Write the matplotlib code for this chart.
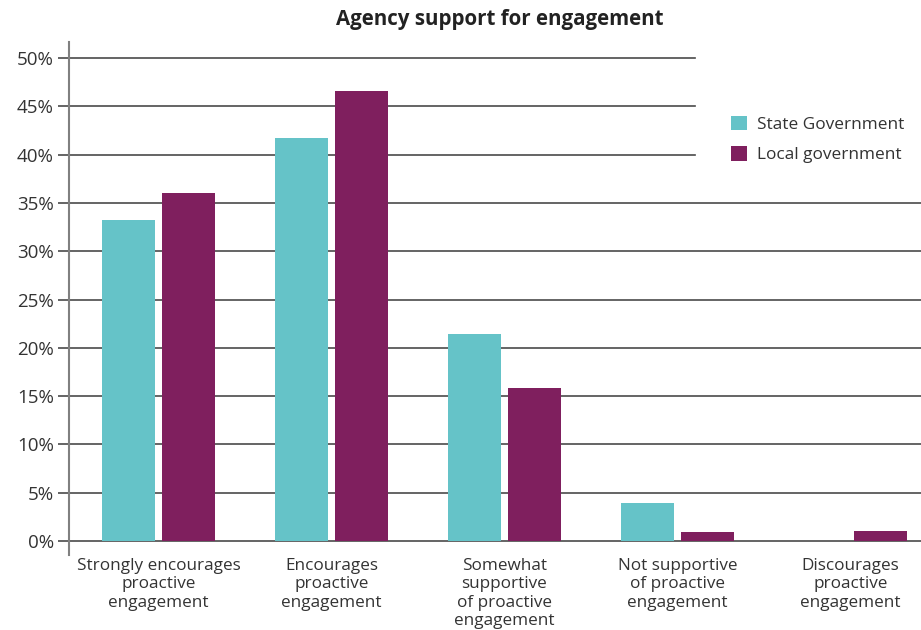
import matplotlib.pyplot as plt
import numpy as np

plt.rcParams['font.family'] = ['Open Sans', 'DejaVu Sans']

categories = ['Strongly encourages\nproactive\nengagement',
              'Encourages\nproactive\nengagement',
              'Somewhat\nsupportive\nof proactive\nengagement',
              'Not supportive\nof proactive\nengagement',
              'Discourages\nproactive\nengagement']
state_gov = [33.2, 41.7, 21.4, 3.9, 0.0]
local_gov = [36.0, 46.6, 15.8, 0.95, 1.05]
y_ticks = [0, 5, 10, 15, 20, 25, 30, 35, 40, 45, 50]

teal = '#65c3c8'
plum = '#7f1f5e'

fig = plt.figure(figsize=(9.21, 6.30), dpi=100)
ax = fig.add_axes([0.0749, 0.119, 0.9251, 0.814])

x = np.arange(len(categories))
w = 0.306
off = 0.173
ax.bar(x - off, state_gov, width=w, color=teal, label='State Government', zorder=3)
ax.bar(x + off, local_gov, width=w, color=plum, label='Local government', zorder=3)

# horizontal rules; the top ones stop short where the legend sits
for y in y_ticks:
    xmax = 0.735 if y >= 40 else 1.0
    ax.axhline(y, xmin=0, xmax=xmax, color='#4a4a4a', lw=1.2, zorder=1)

ax.set_xlim(-0.517, 4.408)
ax.set_ylim(-1.45, 51.65)
ax.set_yticks(y_ticks)
ax.set_yticklabels([f'{v}%' for v in y_ticks], fontsize=13.5, color='#333333')
ax.tick_params(axis='y', length=8, width=1.2, color='#4a4a4a', pad=3)
ax.set_xticks(x)
ax.set_xticklabels(categories, fontsize=12.3, color='#333333', linespacing=1.2)
ax.tick_params(axis='x', length=0, pad=2)

for s in ['top', 'right', 'bottom']:
    ax.spines[s].set_visible(False)
ax.spines['left'].set_color('#808080')
ax.spines['left'].set_linewidth(1.5)

fig.text(500 / 921, 1 - 20 / 630, 'Agency support for engagement', ha='center', va='center',
         fontsize=14.8, fontweight='bold', color='#222222')

leg = ax.legend(loc='upper left', bbox_to_anchor=(715 / 921, 1 - 100 / 630),
                bbox_transform=fig.transFigure, frameon=False, fontsize=12.4,
                handlelength=0.95, handleheight=0.95, handletextpad=0.6, labelspacing=0.75)
for t in leg.get_texts():
    t.set_color('#333333')

fig.savefig('out.png', dpi=100)
